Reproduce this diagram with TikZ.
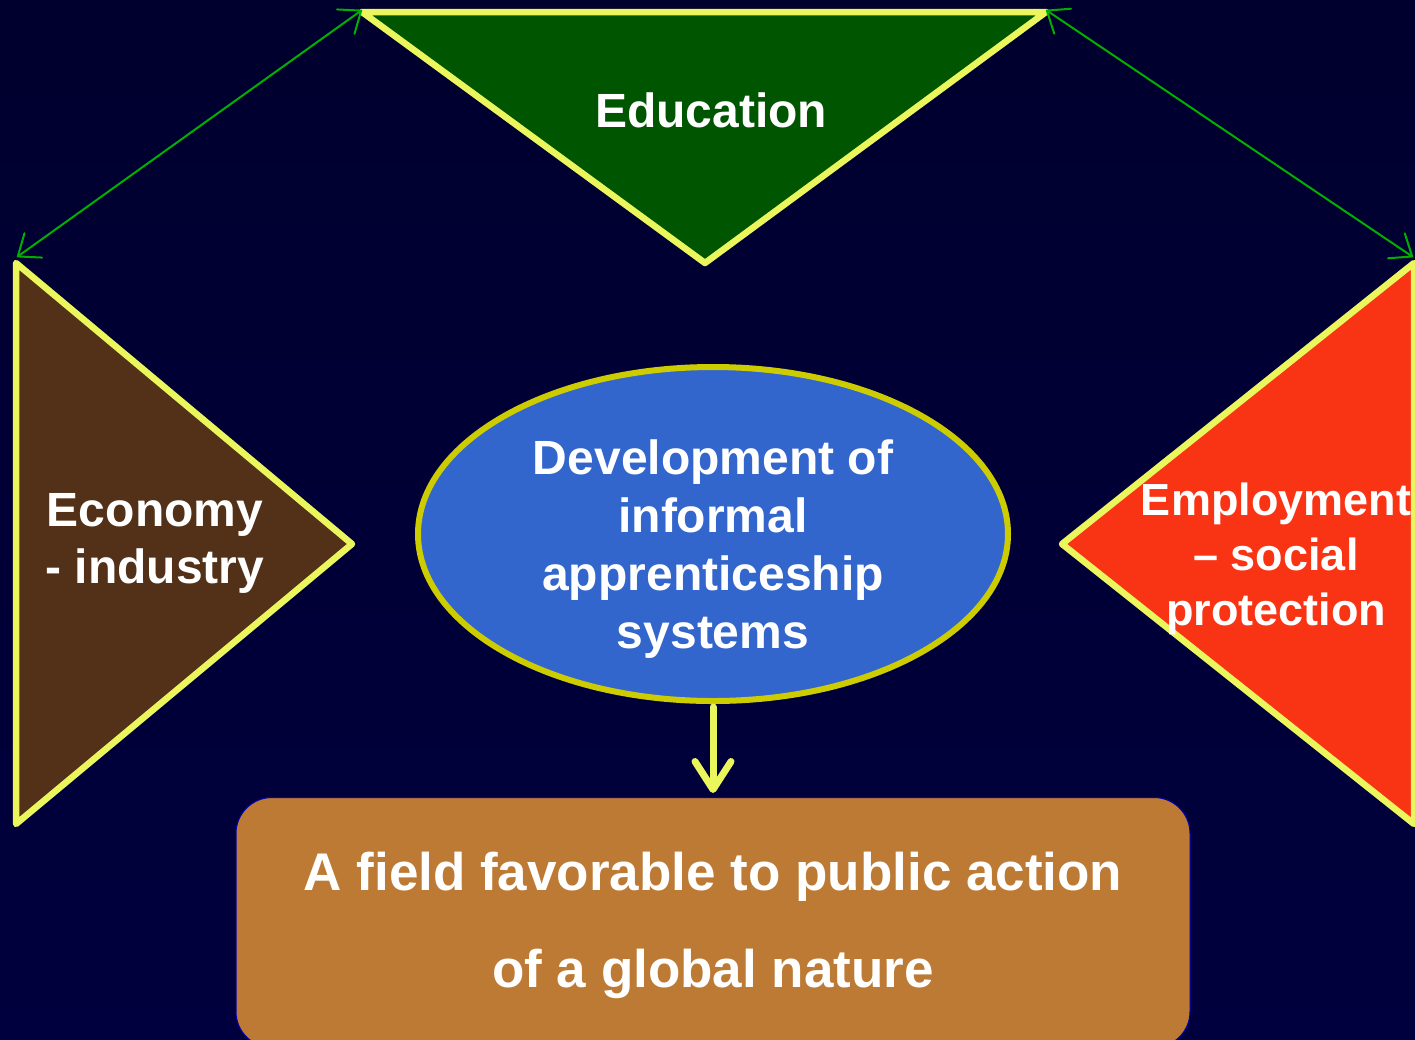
\documentclass[tikz,border=0pt]{standalone}
\usepackage{fontspec}
\setmainfont{Liberation Sans}
\usetikzlibrary{arrows.meta,shapes.geometric}
\definecolor{bgtop}{RGB}{0,0,46}
\definecolor{bgbot}{RGB}{0,0,62}
\definecolor{edgeyel}{RGB}{234,246,92}
\definecolor{ovalyel}{RGB}{204,204,0}
\definecolor{edugreen}{RGB}{0,85,0}
\definecolor{econbrown}{RGB}{82,49,24}
\definecolor{emplred}{RGB}{249,52,20}
\definecolor{ovalblue}{RGB}{51,102,204}
\definecolor{fieldbrown}{RGB}{189,122,52}
\definecolor{linkgreen}{RGB}{0,175,0}
\tikzset{
  tri/.style={draw=edgeyel, line width=6.5pt, line join=round},
  label/.style={text=white, font=\bfseries\fontsize{48}{57.5}\selectfont, align=center, inner sep=0pt},
  link/.style={draw=linkgreen, line width=2pt, line cap=round, {Straight Barb[length=19pt,width=30pt,round]}-{Straight Barb[length=19pt,width=30pt,round]}},
}
\begin{document}
\begin{tikzpicture}[x=1pt,y=-1pt]
\useasboundingbox (0,0) rectangle (1415,1039);
\clip (0,0) rectangle (1415,1039);
\shade[top color=bgtop, bottom color=bgbot] (0,0) rectangle (1415,1039);

% Education triangle
\coordinate (eduL) at (362,12);
\coordinate (eduR) at (1046,12);
\coordinate (eduB) at (705,263);
\filldraw[tri, fill=edugreen] (eduL) -- (eduR) -- (eduB) -- cycle;
\node[label, anchor=base] (edu) at (711,127) {Education};

% Economy triangle
\coordinate (ecoT) at (16,263);
\coordinate (ecoB) at (16,824);
\coordinate (ecoR) at (352,544);
\filldraw[tri, fill=econbrown] (ecoT) -- (ecoR) -- (ecoB) -- cycle;
\node[label] (eco) at (155,543.5) {Economy\\- industry};

% Employment triangle
\coordinate (empT) at (1414,263);
\coordinate (empB) at (1414,824);
\coordinate (empL) at (1062,544);
\filldraw[tri, fill=emplred] (empT) -- (empL) -- (empB) -- cycle;
\node[label, font=\bfseries\fontsize{45}{55}\selectfont] (emp) at (1276,559) {Employment\\– social\\protection};

% Central ellipse
\node[ellipse, draw=ovalyel, fill=ovalblue, line width=6pt,
      minimum width=590pt, minimum height=334pt, inner sep=0pt] (dev) at (713,534) {};
\node[label, font=\bfseries\fontsize{48}{58}\selectfont] (devtext) at (713,549) {Development of\\informal\\apprenticeship\\systems};

% Bottom rounded box
\node[draw=blue!70!black, line width=1pt, fill=fieldbrown, rounded corners=36pt,
      minimum width=954pt, minimum height=250pt, anchor=north, inner sep=0pt] (field) at (713,797) {};
\node[label, font=\bfseries\fontsize{53}{97}\selectfont] (fieldtext) at (713,925.5) {A field favorable to public action\\of a global nature};

% Connectors
\coordinate (ecoTip) at (17,257);
\coordinate (empTip) at (1413,257);
\coordinate (eduLt) at (362,10);
\coordinate (eduRt) at (1046,10);
\draw[link] (eduLt) -- (ecoTip);
\draw[link] (eduRt) -- (empTip);

\draw[draw=edgeyel, line width=7pt, line cap=round, line join=round,
      -{Straight Barb[length=28pt,width=36pt,round]}, shorten <=3pt, shorten >=4pt]
      (dev.south) -- (field.north);
\end{tikzpicture}
\end{document}
